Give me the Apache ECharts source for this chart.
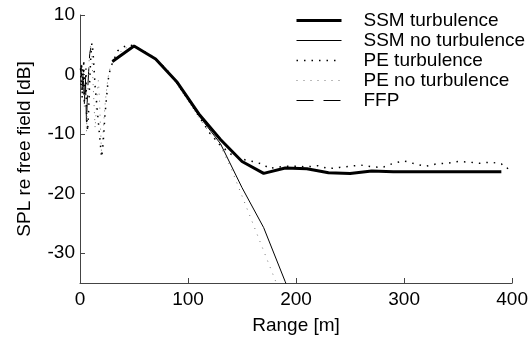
<!DOCTYPE html>
<html><head><meta charset="utf-8">
<script src="https://cdn.jsdelivr.net/npm/echarts@6/dist/echarts.min.js"></script>
<style>html,body{margin:0;padding:0;background:#fff}#c{width:531px;height:340px}</style>
</head><body><div id="c"></div>
<script>
// ---- data ----
var xTicks = [0, 100, 200, 300, 400];
var yTicks = [-30, -20, -10, 0, 10];

var ssmRange = [30, 50, 70, 90, 110, 130, 150, 170, 190, 210, 230, 250, 270, 290, 310, 330, 350, 370, 390];
var ssmTurb = [2.2, 4.8, 2.6, -1.3, -6.6, -10.9, -14.6, -16.6, -15.7, -15.8, -16.5, -16.6, -16.2, -16.3, -16.3, -16.3, -16.3, -16.3, -16.3];

var ssmNoRange = [30, 50, 70, 90, 110, 130, 150, 170, 190, 210];
var ssmNoTurb = [2.2, 4.8, 2.6, -1.4, -6.9, -11.6, -19.0, -25.7, -34.8, -44];

var peTurbRange = [0.5, 1, 1.5, 2, 2.5, 3, 3.5, 4, 4.5, 5, 5.5, 6, 7, 8, 9, 10, 11, 12, 13, 14, 15, 16, 17, 18, 19, 20, 21, 22, 23, 24, 25, 26, 27, 28, 29,
  30, 35, 40, 45, 50, 55, 60, 70, 80, 90, 100, 110, 120, 130, 140, 150, 160, 170, 175, 180, 190, 200, 210, 220, 230, 240, 250, 260, 270, 280, 290, 300, 310, 320, 330, 340, 350, 360, 370, 380, 390, 395, 400];
var peTurb = [1, -2, 2, -4, 1, -1, 2.5, -5, 0, -3, 1, -6, -9.5, -6, -1, 3, 5.3, 4, 1, -2, -4, -6, -8, -10, -12, -13.9, -12.5, -10, -7, -5, -3, -1, 0, 1, 1.5,
  1.8, 4.0, 4.6, 5.0, 4.8, 4.3, 3.8, 2.7, 0.9, -1.5, -4.2, -7.0, -9.8, -11.9, -13.4, -14.2, -14.6, -15.1, -15.8, -15.6, -15.4, -15.4, -15.5, -15.3, -15.8, -15.6, -15.4, -15.2, -15.5, -15.6, -14.9, -14.5, -15.0, -15.4, -15.0, -14.9, -14.6, -14.7, -14.9, -14.7, -15.0, -15.8, -15.2];

var peNoRange = [0.5, 1, 2, 3, 4, 5, 6, 7, 8, 9, 10, 11, 12, 13, 14, 15, 16, 17, 18, 19, 20, 21, 22, 23, 24, 25, 26, 27, 28, 29,
  30, 40, 50, 60, 70, 80, 90, 100, 110, 120, 130, 140, 150, 160, 170, 180, 190];
var peNoTurb = [0, 2, -3, 1, -5.5, 0, -9.7, -4, 1, 4, 5, 3, -1, -5, -9, -6, -3, -1, -4, -9, -13.5, -11, -8, -5.5, -3.5, -2, -0.5, 0.5, 1.2, 1.6,
  1.8, 4.4, 4.7, 3.8, 2.5, 0.7, -1.7, -4.4, -7.2, -9.8, -12.0, -15.8, -20.4, -25.0, -29.6, -34.2, -38.8];

var ffpRange = [0.5, 1, 2, 3, 4, 5, 6, 7, 8, 9, 10];
var ffpVals = [0.5, 1.5, -2.5, 0.5, -5, -0.5, -8, -3, 0.5, 3.5, 4.5];

function pairs(xs, ys) { return xs.map(function (x, i) { return [x, ys[i]]; }); }

var FONT = 'Liberation Sans, Arial, sans-serif';
var FS = 19;
var chart = echarts.init(document.getElementById('c'));
chart.setOption({
  animation: false,
  backgroundColor: '#fff',
  textStyle: { fontFamily: FONT },
  grid: { left: 80, right: 18, top: 15, bottom: 55 },
  legend: {
    orient: 'vertical', left: 295, top: 10.5, padding: 0, itemGap: 0, itemWidth: 45, itemHeight: 10,
    itemStyle: { opacity: 0 },
    textStyle: { fontSize: FS, fontFamily: FONT, color: '#000', lineHeight: 20, padding: [0, 0, 0, 17] },
    data: [
      { name: 'SSM turbulence', lineStyle: { width: 3 } },
      { name: 'SSM no turbulence', lineStyle: { width: 1 } },
      { name: 'PE turbulence', lineStyle: { width: 1.5 } },
      { name: 'PE no turbulence', lineStyle: { width: 1 } },
      { name: 'FFP', lineStyle: { width: 1 } }
    ]
  },
  xAxis: {
    type: 'value', min: 0, max: 400, interval: 100,
    name: 'Range [m]', nameLocation: 'middle', nameGap: 33,
    nameTextStyle: { fontSize: FS, color: '#000', fontFamily: FONT },
    axisLine: { show: true, onZero: false, lineStyle: { color: '#444', width: 1 } },
    axisTick: { show: true, inside: true, length: 5, lineStyle: { color: '#444' }, customValues: xTicks },
    axisLabel: { fontSize: FS, color: '#000', margin: 7, fontFamily: FONT, customValues: xTicks },
    splitLine: { show: false }
  },
  yAxis: {
    type: 'value', min: -35, max: 10,
    name: 'SPL re free field [dB]', nameLocation: 'middle', nameGap: 46,
    nameTextStyle: { fontSize: FS, color: '#000', fontFamily: FONT },
    axisLine: { show: true, onZero: false, lineStyle: { color: '#444', width: 1 } },
    axisTick: { show: true, inside: true, length: 5, lineStyle: { color: '#444' }, customValues: yTicks },
    axisLabel: { fontSize: FS, color: '#000', margin: 5, fontFamily: FONT, customValues: yTicks },
    splitLine: { show: false }
  },
  series: [
    { name: 'SSM turbulence', type: 'line', symbol: 'none', z: 5, data: pairs(ssmRange, ssmTurb),
      lineStyle: { color: '#000', width: 3 }, itemStyle: { color: '#000' } },
    { name: 'SSM no turbulence', type: 'line', symbol: 'none', z: 4, data: pairs(ssmNoRange, ssmNoTurb),
      lineStyle: { color: '#000', width: 1 }, itemStyle: { color: '#000' } },
    { name: 'PE turbulence', type: 'line', symbol: 'none', z: 3, data: pairs(peTurbRange, peTurb),
      lineStyle: { color: '#000', width: 1.5, type: [1.5, 6] }, itemStyle: { color: '#000' } },
    { name: 'PE no turbulence', type: 'line', symbol: 'none', z: 2, data: pairs(peNoRange, peNoTurb),
      lineStyle: { color: '#777', width: 1, type: [1, 6] }, itemStyle: { color: '#777' } },
    { name: 'FFP', type: 'line', symbol: 'none', z: 1, data: pairs(ffpRange, ffpVals),
      lineStyle: { color: '#000', width: 1, type: [17, 10] }, itemStyle: { color: '#000' } }
  ]
});
</script></body></html>
